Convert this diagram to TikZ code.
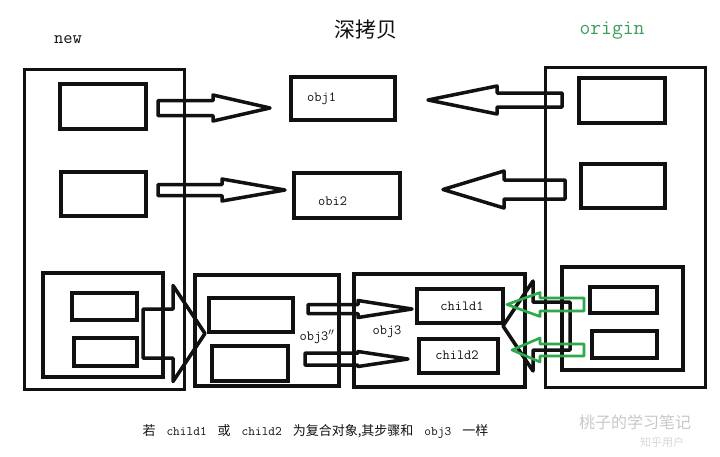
\documentclass[tikz,border=0pt]{standalone}
\usepackage{fontspec}
\newfontfamily\cjk{Noto Sans CJK SC}
\usetikzlibrary{fit,calc}
\definecolor{tinta}{HTML}{111111}
\definecolor{verde}{HTML}{2DA84A}
\definecolor{verdet}{HTML}{3C9E5C}
\definecolor{marca}{HTML}{C8C8C8}
\tikzset{
 caja/.style={draw=tinta,line width=3.5pt,inner sep=0pt,rectangle},
 marco/.style={draw=tinta,line width=3pt,inner sep=0pt,rectangle},
 flecha/.style={draw=tinta,line width=3.5pt,line join=round},
 flechav/.style={draw=verde,line width=2.6pt,line join=round},
 etq/.style={font=\ttfamily\fontsize{14}{16}\selectfont,text=tinta,inner sep=0pt},
}
% tail x, y, shaft half, head x, head half, tip x, style
\newcommand{\bloque}[7]{
 \draw[#7] (#1,#2-#3) -- (#4,#2-#3) -- (#4,#2-#5) -- (#6,#2) -- (#4,#2+#5) -- (#4,#2+#3) -- (#1,#2+#3) -- cycle;
}
\newcommand{\hueco}{\hspace{11pt}}
\begin{document}
\begin{tikzpicture}[x=1pt,y=-1pt]
\useasboundingbox[fill=white] (0,0) rectangle (720,456);

\node[font=\cjk\fontsize{21}{24}\selectfont,text=tinta] (titulo) at (366,30) {深拷贝};
\node[font=\ttfamily\fontsize{18}{20}\selectfont,text=tinta] (tnew) at (68,40) {new};
\node[font=\ttfamily\fontsize{21}{24}\selectfont,text=verdet] (torig) at (612,31) {origin};

% new
\node[marco,fit={(24,69) (184,389)}] (new) {};
\node[caja,fit={(60,84) (146,129)}] (n1) {};
\node[caja,fit={(61,172) (146,216)}] (n2) {};
\node[caja,fit={(43,273) (163,377)}] (n3) {};
\node[caja,fit={(72,293) (137,320)}] (n31) {};
\node[caja,fit={(74,338) (137,366)}] (n32) {};

% origin
\node[marco,fit={(545,67) (705,387)}] (orig) {};
\node[caja,fit={(579,78) (665,123)}] (o1) {};
\node[caja,fit={(581,164) (665,208)}] (o2) {};
\node[caja,fit={(562,267) (683,370)}] (o3) {};
\node[caja,fit={(590,287) (657,313)}] (o31) {};
\node[caja,fit={(592,331) (657,358)}] (o32) {};

% copias
\node[caja,fit={(291,77) (395,120)}] (obj1) {};
\node[etq,anchor=west] (tobj1) at (307,99) {obj1};
\node[caja,fit={(294,173) (400,218)}] (obj2) {};
\node[etq,anchor=west] (tobj2) at (318,201) {obi2};
\node[caja,fit={(195,275) (339,386)}] (obj3b) {};
\node[caja,fit={(209,298) (293,332)}] (b1) {};
\node[caja,fit={(212,346) (288,381)}] (b2) {};
\node[etq] (tobj3b) at (317,337) {obj3$''$};
\node[caja,fit={(354,274) (525,387)}] (obj3) {};
\node[etq] (tobj3) at (387,332) {obj3};
\node[caja,fit={(417,289) (503,323)}] (c1) {};
\node[etq] (tc1) at (462,306) {child1};
\node[caja,fit={(419,339) (498,373)}] (c2) {};
\node[etq] (tc2) at (457,355) {child2};

\bloque{158}{108}{7.5}{213}{13}{270}{flecha}
\bloque{158}{190}{5.5}{222}{11}{285}{flecha}
\bloque{562}{100}{7}{497}{14}{428}{flecha}
\bloque{565}{189.5}{9.5}{504}{18.5}{443}{flecha}
\bloque{143}{333.5}{24.5}{173}{48}{205}{flecha}
\bloque{308}{309}{4.5}{358}{8.5}{412}{flecha}
\bloque{305}{359}{6}{358}{7.5}{408}{flecha}
\bloque{570}{326}{24}{533}{45}{503}{flecha}
\bloque{584}{304.5}{6.5}{540}{12}{507}{flechav}
\bloque{584}{350}{6}{540}{12}{512}{flechav}

\node[text=tinta,font=\fontsize{13}{15}\selectfont,anchor=west] (nota) at (139,431)
 {\cjk 若\hueco\ttfamily child1\hueco\cjk 或\hueco\ttfamily child2\hueco\cjk 为复合对象,其步骤和\hueco\ttfamily obj3\hueco\cjk 一样};
\node[text=marca,font=\cjk\fontsize{16}{18}\selectfont] (marca1) at (635,422) {桃子的学习笔记};
\node[text=marca!70,font=\cjk\fontsize{11}{13}\selectfont] (marca2) at (662,442) {知乎用户};

\end{tikzpicture}
\end{document}
